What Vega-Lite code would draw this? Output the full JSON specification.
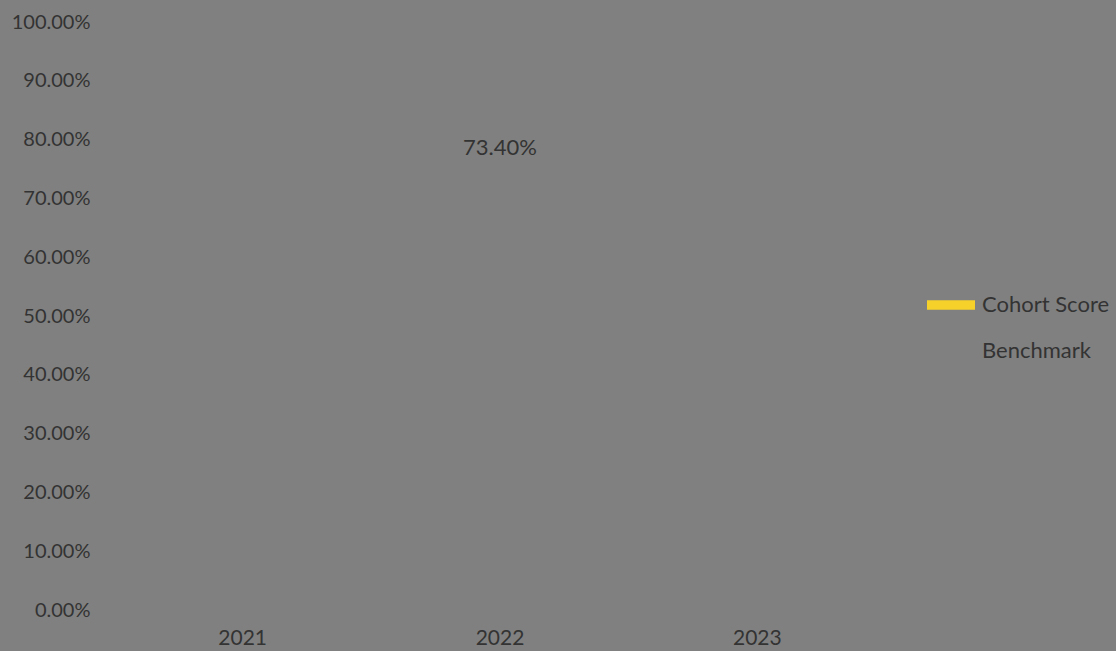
{
  "$schema": "https://vega.github.io/schema/vega-lite/v6.json",
  "autosize": "none",
  "width": 772,
  "height": 588,
  "padding": {"left": 114, "top": 22, "right": 230, "bottom": 41},
  "background": "#808080",
  "config": {
    "view": {"stroke": null},
    "font": "Lato",
    "text": {"font": "Lato"}
  },
  "data": {
    "values": [
      {"year": "2021", "series": "Cohort Score", "value": null},
      {"year": "2022", "series": "Cohort Score", "value": 0.734},
      {"year": "2023", "series": "Cohort Score", "value": null},
      {"year": "2021", "series": "Benchmark", "value": null},
      {"year": "2022", "series": "Benchmark", "value": null},
      {"year": "2023", "series": "Benchmark", "value": null}
    ]
  },
  "encoding": {
    "x": {
      "field": "year",
      "type": "nominal",
      "sort": ["2021", "2022", "2023"],
      "scale": {"domain": ["2021", "2022", "2023"], "paddingInner": 0.3, "paddingOuter": 0.15},
      "axis": {
        "title": null,
        "domain": false,
        "ticks": false,
        "labelAngle": 0,
        "labelFont": "Lato",
        "labelFontSize": 21,
        "labelColor": "#333333",
        "labelPadding": 28,
        "labelBaseline": "middle"
      }
    },
    "y": {
      "field": "value",
      "type": "quantitative",
      "scale": {"domain": [0, 1], "nice": false, "zero": true},
      "axis": {
        "title": null,
        "domain": false,
        "ticks": false,
        "grid": false,
        "values": [0, 0.1, 0.2, 0.3, 0.4, 0.5, 0.6, 0.7, 0.8, 0.9, 1],
        "format": ".2%",
        "labelFont": "Lato",
        "labelFontSize": 20,
        "labelColor": "#333333",
        "labelPadding": 24,
        "labelFlush": false,
        "labelOverlap": false
      }
    }
  },
  "layer": [
    {
      "mark": {"type": "bar", "opacity": 0},
      "encoding": {
        "color": {
          "field": "series",
          "type": "nominal",
          "scale": {"domain": ["Cohort Score", "Benchmark"], "range": ["#f5d12a", "transparent"]},
          "legend": {
            "title": null,
            "orient": "none",
            "legendX": 813,
            "legendY": 259,
            "padding": 0,
            "offset": 0,
            "symbolType": "M-1,-0.2H1V0.2H-1Z",
            "symbolSize": 2304,
            "symbolOpacity": 1,
            "symbolStrokeWidth": 0,
            "labelOffset": 7,
            "labelFont": "Lato",
            "labelFontSize": 22,
            "labelColor": "#333333",
            "rowPadding": 11
          }
        }
      }
    },
    {
      "transform": [{"filter": "datum.value != null"}],
      "mark": {"type": "text", "dy": -30, "font": "Lato", "fontSize": 22, "color": "#333333"},
      "encoding": {
        "text": {"field": "value", "type": "quantitative", "format": ".2%"}
      }
    }
  ]
}
